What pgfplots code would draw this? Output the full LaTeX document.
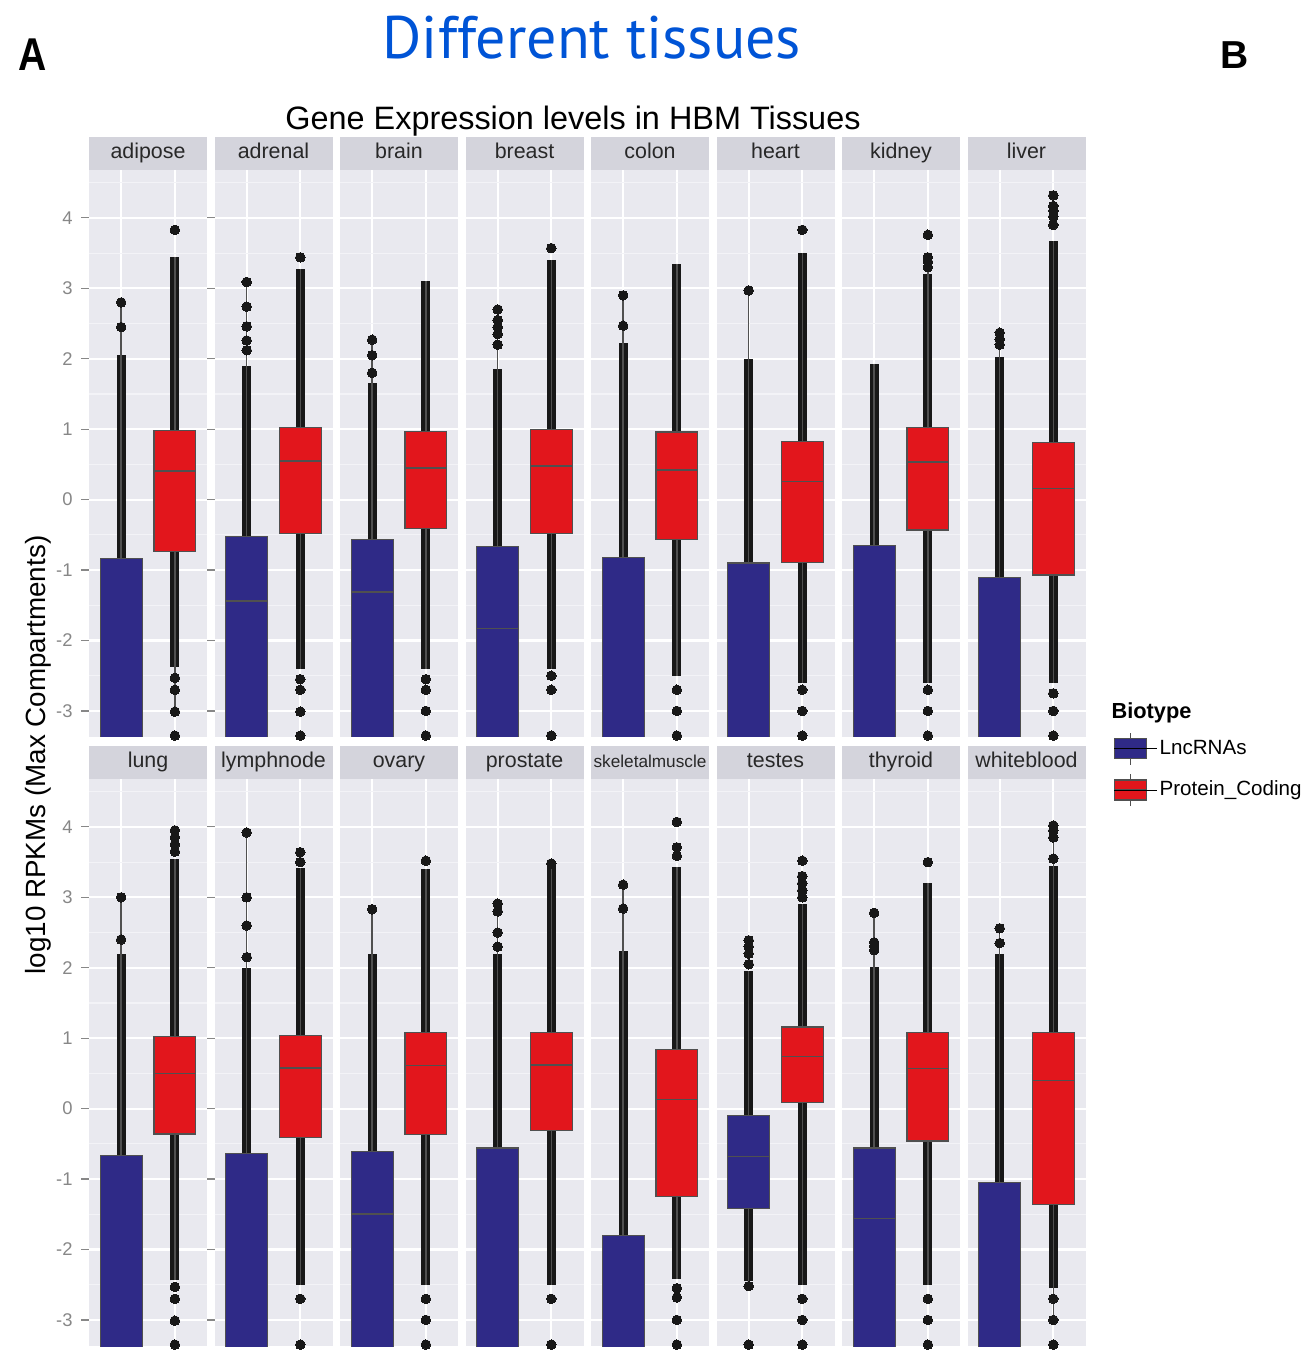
\documentclass[border=0pt]{standalone}
\usepackage{pgfplots}
\pgfplotsset{compat=1.18}
\usepgfplotslibrary{statistics}
\usepackage{fontspec}
\setmainfont{Liberation Sans}
\newfontfamily\ptsans{PT Sans}
\definecolor{panelbg}{RGB}{233,233,239}
\definecolor{stripbg}{RGB}{212,212,220}
\definecolor{minorgrid}{RGB}{243,243,247}
\definecolor{striptext}{RGB}{40,40,40}
\definecolor{tickgray}{RGB}{135,135,135}
\definecolor{lnccol}{RGB}{47,42,135}
\definecolor{pccol}{RGB}{226,22,28}
\definecolor{boxedge}{RGB}{80,80,80}
\definecolor{densecol}{RGB}{24,24,24}
\definecolor{titleblue}{RGB}{0,84,214}
\pgfplotsset{
  panel/.style={
    scale only axis, width=59pt, height=283.5pt, anchor=south west,
    xmin=0.4, xmax=2.6, ymin=-3.37, ymax=4.68,
    axis background/.style={fill=panelbg},
    axis line style={draw=none},
    xtick={1,2}, xticklabels={}, xtick style={draw=none},
    ytick={-3,-2,-1,0,1,2,3,4}, minor ytick={-3.5,-2.5,-1.5,-0.5,0.5,1.5,2.5,3.5,4.5},
    grid=both, major grid style={draw=white, line width=1.1pt},
    minor grid style={draw=minorgrid, line width=0.55pt},
    minor tick length=0pt,
    yticklabels={}, ytick style={draw=none},
    title style={at={(0.5,1)}, anchor=south, yshift=-6pt, fill=stripbg,
      minimum width=59pt, minimum height=16.5pt, inner sep=0pt, text=striptext,
      text height=7.9pt, text depth=2.3pt,
      font=\fontsize{10.7}{12}\selectfont},
    boxplot/draw direction=y, boxplot/box extend=0.78, boxplot/whisker extend=0,
  },
  firstcol/.style={
    yticklabels={-3,-2,-1,0,1,2,3,4}, ytick style={draw=tickgray, line width=0.6pt},
    tick align=outside, major tick length=4pt,
    yticklabel style={font=\fontsize{9.2}{10}\selectfont, text=tickgray, inner sep=0pt, xshift=-4pt},
  },
  dense/.style={draw=densecol, line width=4.5pt, forget plot},
  lnc/.style={forget plot, boxplot prepared={draw position=1, #1}, draw=boxedge, fill=lnccol,
    line width=0.6pt, mark=*, mark size=2.4pt, mark options={draw=densecol, fill=densecol, line width=0pt},
    boxplot/every whisker/.style={draw=boxedge, line width=0.7pt},
    boxplot/every median/.style={draw=boxedge, line width=0.8pt}},
  pc/.style={forget plot, boxplot prepared={draw position=2, #1}, draw=boxedge, fill=pccol,
    line width=0.6pt, mark=*, mark size=2.4pt, mark options={draw=densecol, fill=densecol, line width=0pt},
    boxplot/every whisker/.style={draw=boxedge, line width=0.7pt},
    boxplot/every median/.style={draw=boxedge, line width=0.8pt}},
}
\begin{document}
\begin{tikzpicture}
\useasboundingbox (0pt,0pt) rectangle (653pt,679.5pt);
% ---------------- row 1 ----------------
\begin{axis}[panel, firstcol, at={(44.5pt,311pt)}, title={adipose}]
\addplot[dense] coordinates {(1,-3.5) (1,2.06)};
\addplot[lnc={lower whisker=-4.5, lower quartile=-4.4, median=-4.3, upper quartile=-0.84, upper whisker=2.8}] table[row sep=\\, y index=0] {y\\ 2.45\\ 2.8\\};
\addplot[dense] coordinates {(2,-2.37) (2,3.45)};
\addplot[pc={lower whisker=-3.01, lower quartile=-0.74, median=0.41, upper quartile=0.98, upper whisker=3.45}] table[row sep=\\, y index=0] {y\\ 3.83\\ -2.53\\ -2.70\\ -3.01\\ -3.35\\};
\end{axis}
\begin{axis}[panel, at={(107.25pt,311pt)}, title={adrenal}]
\addplot[dense] coordinates {(1,-3.5) (1,1.89)};
\addplot[lnc={lower whisker=-4.5, lower quartile=-4.4, median=-1.44, upper quartile=-0.52, upper whisker=3.09}] table[row sep=\\, y index=0] {y\\ 2.12\\ 2.26\\ 2.46\\ 2.74\\ 3.09\\};
\addplot[dense] coordinates {(2,-2.4) (2,3.27)};
\addplot[pc={lower whisker=-2.4, lower quartile=-0.48, median=0.55, upper quartile=1.02, upper whisker=3.27}] table[row sep=\\, y index=0] {y\\ 3.44\\ -2.55\\ -2.70\\ -3.01\\ -3.35\\};
\end{axis}
\begin{axis}[panel, at={(170pt,311pt)}, title={brain}]
\addplot[dense] coordinates {(1,-3.5) (1,1.65)};
\addplot[lnc={lower whisker=-4.5, lower quartile=-4.4, median=-1.31, upper quartile=-0.57, upper whisker=2.27}] table[row sep=\\, y index=0] {y\\ 1.80\\ 2.05\\ 2.27\\};
\addplot[dense] coordinates {(2,-2.4) (2,3.1)};
\addplot[pc={lower whisker=-2.4, lower quartile=-0.41, median=0.45, upper quartile=0.97, upper whisker=3.1}] table[row sep=\\, y index=0] {y\\ -2.55\\ -2.70\\ -3.0\\ -3.35\\};
\end{axis}
\begin{axis}[panel, at={(232.75pt,311pt)}, title={breast}]
\addplot[dense] coordinates {(1,-3.5) (1,1.85)};
\addplot[lnc={lower whisker=-4.5, lower quartile=-4.4, median=-1.83, upper quartile=-0.67, upper whisker=2.7}] table[row sep=\\, y index=0] {y\\ 2.2\\ 2.35\\ 2.45\\ 2.55\\ 2.7\\};
\addplot[dense] coordinates {(2,-2.4) (2,3.4)};
\addplot[pc={lower whisker=-2.4, lower quartile=-0.48, median=0.48, upper quartile=1.0, upper whisker=3.4}] table[row sep=\\, y index=0] {y\\ 3.57\\ -2.5\\ -2.7\\ -3.35\\};
\end{axis}
\begin{axis}[panel, at={(295.5pt,311pt)}, title={colon}]
\addplot[dense] coordinates {(1,-3.5) (1,2.23)};
\addplot[lnc={lower whisker=-4.5, lower quartile=-4.4, median=-4.3, upper quartile=-0.82, upper whisker=2.9}] table[row sep=\\, y index=0] {y\\ 2.47\\ 2.9\\};
\addplot[dense] coordinates {(2,-2.5) (2,3.35)};
\addplot[pc={lower whisker=-2.5, lower quartile=-0.57, median=0.42, upper quartile=0.96, upper whisker=3.35}] table[row sep=\\, y index=0] {y\\ -2.7\\ -3.0\\ -3.35\\};
\end{axis}
\begin{axis}[panel, at={(358.25pt,311pt)}, title={heart}]
\addplot[dense] coordinates {(1,-3.5) (1,1.99)};
\addplot[lnc={lower whisker=-4.5, lower quartile=-4.4, median=-4.3, upper quartile=-0.9, upper whisker=2.97}] table[row sep=\\, y index=0] {y\\ 2.97\\};
\addplot[dense] coordinates {(2,-2.6) (2,3.5)};
\addplot[pc={lower whisker=-2.6, lower quartile=-0.89, median=0.26, upper quartile=0.83, upper whisker=3.5}] table[row sep=\\, y index=0] {y\\ 3.83\\ -2.7\\ -3.0\\ -3.35\\};
\end{axis}
\begin{axis}[panel, at={(421pt,311pt)}, title={kidney}]
\addplot[dense] coordinates {(1,-3.5) (1,1.93)};
\addplot[lnc={lower whisker=-4.5, lower quartile=-4.4, median=-4.3, upper quartile=-0.65, upper whisker=1.93}] coordinates {};
\addplot[dense] coordinates {(2,-2.6) (2,3.2)};
\addplot[pc={lower whisker=-2.6, lower quartile=-0.43, median=0.53, upper quartile=1.02, upper whisker=3.44}] table[row sep=\\, y index=0] {y\\ 3.3\\ 3.38\\ 3.44\\ 3.76\\ -2.7\\ -3.0\\ -3.35\\};
\end{axis}
\begin{axis}[panel, at={(483.75pt,311pt)}, title={liver},
  legend style={at={(1.233,0.064)}, anchor=north west, draw=none, fill=none,
    font=\fontsize{10.3}{12}\selectfont, row sep=4pt, inner sep=0pt,
    nodes={inner sep=1pt}},
  legend cell align=left,
  legend image post style={xshift=-1pt}]
\addlegendimage{empty legend}
\addlegendimage{legend image code/.code={
  \draw[boxedge, line width=0.7pt] (8pt,-8pt) -- (8pt,8pt);
  \draw[draw=boxedge, fill=lnccol, line width=0.6pt] (0pt,-5pt) rectangle (16pt,5pt);
  \draw[boxedge, line width=0.8pt] (0pt,0pt) -- (16pt,0pt);
  \path (0pt,0pt) -- (21.5pt,0pt);}}
\addlegendimage{legend image code/.code={
  \draw[boxedge, line width=0.7pt] (8pt,-8pt) -- (8pt,8pt);
  \draw[draw=boxedge, fill=pccol, line width=0.6pt] (0pt,-5pt) rectangle (16pt,5pt);
  \draw[boxedge, line width=0.8pt] (0pt,0pt) -- (16pt,0pt);
  \path (0pt,0pt) -- (21.5pt,0pt);}}
\addplot[dense] coordinates {(1,-3.5) (1,2.02)};
\addplot[lnc={lower whisker=-4.5, lower quartile=-4.4, median=-4.3, upper quartile=-1.11, upper whisker=2.37}] table[row sep=\\, y index=0] {y\\ 2.2\\ 2.28\\ 2.37\\};
\addplot[dense] coordinates {(2,-2.6) (2,3.67)};
\addplot[pc={lower whisker=-2.6, lower quartile=-1.07, median=0.16, upper quartile=0.81, upper whisker=3.67}] table[row sep=\\, y index=0] {y\\ 3.9\\ 4.02\\ 4.1\\ 4.17\\ 4.32\\ -2.75\\ -3.0\\ -3.35\\};
\legend{\hspace{-24pt}\textbf{\fontsize{10.9}{12}\selectfont Biotype}, LncRNAs, Protein\_Coding}
\end{axis}
% ---------------- row 2 ----------------
\begin{axis}[panel, firstcol, at={(44.5pt,6.5pt)}, title={lung}]
\addplot[dense] coordinates {(1,-3.5) (1,2.2)};
\addplot[lnc={lower whisker=-4.5, lower quartile=-4.4, median=-4.3, upper quartile=-0.67, upper whisker=3.0}] table[row sep=\\, y index=0] {y\\ 2.4\\ 3.0\\};
\addplot[dense] coordinates {(2,-2.44) (2,3.55)};
\addplot[pc={lower whisker=-2.44, lower quartile=-0.36, median=0.50, upper quartile=1.02, upper whisker=3.55}] table[row sep=\\, y index=0] {y\\ 3.65\\ 3.75\\ 3.85\\ 3.95\\ -2.53\\ -2.70\\ -3.01\\ -3.35\\};
\end{axis}
\begin{axis}[panel, at={(107.25pt,6.5pt)}, title={lymphnode}]
\addplot[dense] coordinates {(1,-3.5) (1,2.0)};
\addplot[lnc={lower whisker=-4.5, lower quartile=-4.4, median=-4.3, upper quartile=-0.64, upper whisker=3.92}] table[row sep=\\, y index=0] {y\\ 2.15\\ 2.6\\ 3.0\\ 3.92\\};
\addplot[dense] coordinates {(2,-2.5) (2,3.41)};
\addplot[pc={lower whisker=-2.5, lower quartile=-0.41, median=0.58, upper quartile=1.04, upper whisker=3.41}] table[row sep=\\, y index=0] {y\\ 3.5\\ 3.64\\ -2.7\\ -3.35\\};
\end{axis}
\begin{axis}[panel, at={(170pt,6.5pt)}, title={ovary}]
\addplot[dense] coordinates {(1,-3.5) (1,2.2)};
\addplot[lnc={lower whisker=-4.5, lower quartile=-4.4, median=-1.50, upper quartile=-0.61, upper whisker=2.83}] table[row sep=\\, y index=0] {y\\ 2.83\\};
\addplot[dense] coordinates {(2,-2.5) (2,3.4)};
\addplot[pc={lower whisker=-2.5, lower quartile=-0.37, median=0.61, upper quartile=1.08, upper whisker=3.4}] table[row sep=\\, y index=0] {y\\ 3.52\\ -2.7\\ -3.0\\ -3.35\\};
\end{axis}
\begin{axis}[panel, at={(232.75pt,6.5pt)}, title={prostate}]
\addplot[dense] coordinates {(1,-3.5) (1,2.2)};
\addplot[lnc={lower whisker=-4.5, lower quartile=-4.4, median=-4.3, upper quartile=-0.56, upper whisker=2.91}] table[row sep=\\, y index=0] {y\\ 2.3\\ 2.5\\ 2.8\\ 2.91\\};
\addplot[dense] coordinates {(2,-2.5) (2,3.45)};
\addplot[pc={lower whisker=-2.5, lower quartile=-0.31, median=0.62, upper quartile=1.08, upper whisker=3.45}] table[row sep=\\, y index=0] {y\\ 3.48\\ -2.7\\ -3.35\\};
\end{axis}
\begin{axis}[panel, at={(295.5pt,6.5pt)}, title={skeletalmuscle}, title style={font=\fontsize{8.6}{10}\selectfont}]
\addplot[dense] coordinates {(1,-3.5) (1,2.24)};
\addplot[lnc={lower whisker=-4.5, lower quartile=-4.4, median=-4.3, upper quartile=-1.80, upper whisker=3.18}] table[row sep=\\, y index=0] {y\\ 2.84\\ 3.18\\};
\addplot[dense] coordinates {(2,-2.42) (2,3.43)};
\addplot[pc={lower whisker=-2.42, lower quartile=-1.25, median=0.13, upper quartile=0.84, upper whisker=3.43}] table[row sep=\\, y index=0] {y\\ 3.59\\ 3.71\\ 4.07\\ -2.55\\ -2.68\\ -3.0\\ -3.35\\};
\end{axis}
\begin{axis}[panel, at={(358.25pt,6.5pt)}, title={testes}]
\addplot[dense] coordinates {(1,-2.45) (1,1.96)};
\addplot[lnc={lower whisker=-2.45, lower quartile=-1.42, median=-0.68, upper quartile=-0.10, upper whisker=1.96}] table[row sep=\\, y index=0] {y\\ 2.05\\ 2.2\\ 2.3\\ 2.39\\ -2.52\\ -3.35\\};
\addplot[dense] coordinates {(2,-2.5) (2,2.9)};
\addplot[pc={lower whisker=-2.5, lower quartile=0.09, median=0.74, upper quartile=1.16, upper whisker=2.9}] table[row sep=\\, y index=0] {y\\ 3.0\\ 3.1\\ 3.2\\ 3.3\\ 3.52\\ -2.7\\ -3.0\\ -3.35\\};
\end{axis}
\begin{axis}[panel, at={(421pt,6.5pt)}, title={thyroid}]
\addplot[dense] coordinates {(1,-3.5) (1,2.01)};
\addplot[lnc={lower whisker=-4.5, lower quartile=-4.4, median=-1.56, upper quartile=-0.56, upper whisker=2.78}] table[row sep=\\, y index=0] {y\\ 2.25\\ 2.31\\ 2.36\\ 2.78\\};
\addplot[dense] coordinates {(2,-2.5) (2,3.21)};
\addplot[pc={lower whisker=-2.5, lower quartile=-0.46, median=0.57, upper quartile=1.08, upper whisker=3.21}] table[row sep=\\, y index=0] {y\\ 3.5\\ -2.7\\ -3.0\\ -3.35\\};
\end{axis}
\begin{axis}[panel, at={(483.75pt,6.5pt)}, title={whiteblood}]
\addplot[dense] coordinates {(1,-3.5) (1,2.2)};
\addplot[lnc={lower whisker=-4.5, lower quartile=-4.4, median=-4.3, upper quartile=-1.05, upper whisker=2.56}] table[row sep=\\, y index=0] {y\\ 2.35\\ 2.56\\};
\addplot[dense] coordinates {(2,-2.55) (2,3.45)};
\addplot[pc={lower whisker=-3.0, lower quartile=-1.36, median=0.40, upper quartile=1.08, upper whisker=4.02}] table[row sep=\\, y index=0] {y\\ 3.55\\ 3.85\\ 3.95\\ 4.02\\ -2.7\\ -3.0\\ -3.35\\};
\end{axis}
% ---------------- texts ----------------
\node[font=\fontsize{16.2}{18}\selectfont] at (286.5pt,619pt) {Gene Expression levels in HBM Tissues};
\node[font=\ptsans\fontsize{30}{32}\selectfont, text=titleblue] at (296pt,660.5pt) {Different tissues};
\node[font=\bfseries\fontsize{23}{24}\selectfont] at (16.5pt,652pt) {\scalebox{0.85}[1]{A}};
\node[font=\bfseries\fontsize{19.5}{21}\selectfont] at (617.5pt,652pt) {B};
\node[rotate=90, font=\fontsize{13.9}{15}\selectfont] at (19pt,302pt) {log10 RPKMs (Max Compartments)};
\end{tikzpicture}
\end{document}
